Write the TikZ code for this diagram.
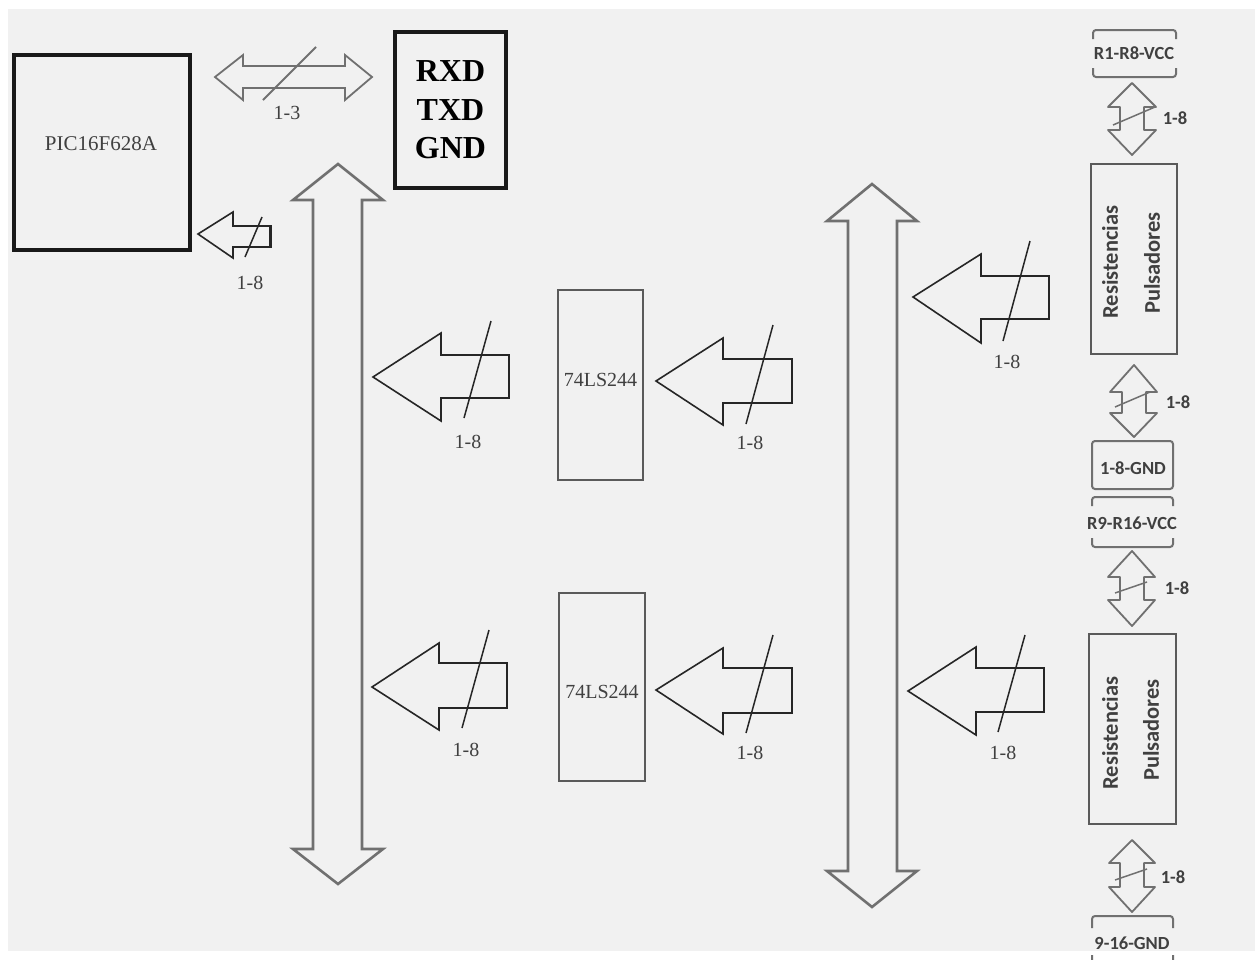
\documentclass[tikz,border=0pt]{standalone}
\usepackage{fontspec}
\setmainfont{Liberation Serif}
\newfontfamily\calib{Carlito}
\definecolor{bgc}{HTML}{F1F1F1}
\definecolor{txtc}{HTML}{404040}
\definecolor{busc}{HTML}{707070}
\definecolor{boxc}{HTML}{5A5A5A}
\newcommand\LArr[8]{\draw[blk] (#1,#2) -- (#3,#4) -- (#3,#5) -- (#8,#5) -- (#8,#6) -- (#3,#6) -- (#3,#7) -- cycle;}
% vertical double arrow: cx, toptip, topbase, wl, wr, sl, sr, botbase, style ; bottom tip in \vdtip
\newcommand\VDArr[9]{\draw[#9] (#1,#2) -- (#5,#3) -- (#7,#3) -- (#7,#8) -- (#5,#8) -- (#1,\vdtip) -- (#4,#8) -- (#6,#8) -- (#6,#3) -- (#4,#3) -- cycle;}
\begin{document}
\begin{tikzpicture}[x=1pt,y=-1pt,
  blk/.style={draw=black!85,line width=1.6pt,line join=miter},
  bus/.style={draw=busc,line width=2.6pt,line join=miter},
  sml/.style={draw=busc,line width=1.8pt,line join=round},
  slash/.style={draw=black!85,line width=1.5pt},
  lbl/.style={text=txtc,font=\fontsize{20}{20}\selectfont,inner sep=0pt},
  slbl/.style={text=txtc,font=\calib\bfseries\fontsize{18.5}{18.5}\selectfont,inner sep=0pt},
  chip/.style={draw=boxc,line width=2.5pt,inner sep=0pt},
  thickbox/.style={draw=black!90,line width=4pt,inner sep=0pt},
  rot/.style={rotate=90,text=txtc,font=\calib\bfseries\fontsize{22.5}{22.5}\selectfont,inner sep=0pt},
  brk/.style={draw=busc,line width=2pt,rounded corners=3pt}]
\useasboundingbox (0,0) rectangle (1255,959);
\clip (0,0) rectangle (1255,959);
\fill[white] (0,0) rectangle (1255,959);
\fill[bgc] (8,9) rectangle (1255,951);

% PIC box
\node[thickbox,minimum width=176pt,minimum height=195pt] (pic) at (102,152.5) {};
\node[text=txtc,font=\fontsize{21}{21}\selectfont,inner sep=0pt] (pictxt) at (101,144) {PIC16F628A};

% RXD box
\node[thickbox,minimum width=111pt,minimum height=156pt,align=center,
  font=\bfseries\fontsize{32}{38.5}\selectfont] (uart) at (450.5,110) {RXD\\TXD\\GND};

% 1-3 double arrow
\draw[sml,line join=miter] (215,77) -- (243,55) -- (243,66) -- (345,66) -- (345,55) -- (372,77)
  -- (345,100) -- (345,88) -- (243,88) -- (243,100) -- cycle;
\draw[sml] (263,100) -- (316,47);
\node[lbl] (l13) at (287,113) {1-3};

% small arrow to PIC
\LArr{198}{234}{233}{212}{226}{247}{258}{270}
\draw[black!85,line width=3pt] (270,225) -- (270,248);
\draw[slash] (245,257) -- (262,217);
\node[lbl] (l0) at (250,283) {1-8};

% buses
\def\vdtip{884}
\VDArr{338}{164}{200}{293}{383}{313}{362}{849}{bus}
\def\vdtip{907}
\VDArr{872}{184}{221}{827}{917}{848}{897}{871}{bus}

% chips
\node[chip,minimum width=85pt,minimum height=190pt] (c1) at (600.5,385) {};
\node[text=txtc,font=\fontsize{20}{20}\selectfont,inner sep=0pt] (c1t) at (600.5,380) {74LS244};
\node[chip,minimum width=86pt,minimum height=188pt] (c2) at (602,687) {};
\node[text=txtc,font=\fontsize{20}{20}\selectfont,inner sep=0pt] (c2t) at (602,692) {74LS244};

% row 1 arrows
\LArr{373}{377}{441}{333}{355}{398}{421}{509}
\draw[slash] (464,418) -- (491,321);
\node[lbl] (la) at (468,442) {1-8};
\LArr{656}{381}{723}{338}{359}{403}{425}{792}
\draw[slash] (746,424) -- (773,325);
\node[lbl] (lb) at (750,443) {1-8};
\LArr{913}{297}{981}{254}{276}{319}{343}{1049}
\draw[slash] (1003,341) -- (1030,241);
\node[lbl] (lc) at (1007,362) {1-8};

% row 2 arrows
\LArr{372}{687}{439}{643}{663}{708}{730}{507}
\draw[slash] (462,728) -- (489,630);
\node[lbl] (ld) at (466,750) {1-8};
\LArr{656}{690}{723}{648}{668}{713}{734}{792}
\draw[slash] (746,733) -- (773,635);
\node[lbl] (le) at (750,753) {1-8};
\LArr{908}{691}{976}{647}{668}{712}{735}{1044}
\draw[slash] (998,732) -- (1025,635);
\node[lbl] (lf) at (1003,753) {1-8};

% right column boxes
\node[chip,minimum width=86pt,minimum height=190pt] (rp1) at (1134,259) {};
\node[rot] (rp1a) at (1110,262) {Resistencias};
\node[rot] (rp1b) at (1152,263) {Pulsadores};
\node[chip,minimum width=87pt,minimum height=190pt] (rp2) at (1132.5,729) {};
\node[rot] (rp2a) at (1110,733) {Resistencias};
\node[rot] (rp2b) at (1151,730) {Pulsadores};

% bracket boxes
\draw[brk] (1093,39) -- (1093,30) -- (1176,30) -- (1176,39);
\draw[brk] (1093,68) -- (1093,77) -- (1176,77) -- (1176,68);
\node[slbl] (vcc1) at (1134,53) {R1-R8-VCC};
\node[draw=busc,line width=2pt,rounded corners=3pt,minimum width=81pt,minimum height=48pt,inner sep=0pt] (gnd1) at (1132.5,465) {};
\node[slbl] (gnd1t) at (1133,468) {1-8-GND};
\draw[brk] (1092,506) -- (1092,497) -- (1173,497) -- (1173,506);
\draw[brk] (1092,538) -- (1092,547) -- (1173,547) -- (1173,538);
\node[slbl] (vcc2) at (1132,523) {R9-R16-VCC};
\draw[brk] (1092,928) -- (1092,916) -- (1173,916) -- (1173,928);
\draw[brk] (1092,955) -- (1092,964) -- (1173,964) -- (1173,955);
\node[slbl] (gnd2) at (1132,943) {9-16-GND};

% small vertical double arrows
\def\vdtip{155}
\VDArr{1132}{83}{107}{1108}{1156}{1120}{1144}{130}{sml}
\draw[sml,line width=1.5pt] (1113,125) -- (1155,107);
\node[slbl] (s1) at (1175,118) {1-8};
\def\vdtip{437}
\VDArr{1134}{365}{392}{1110}{1157}{1122}{1146}{413}{sml}
\draw[sml,line width=1.5pt] (1115,407) -- (1150,392);
\node[slbl] (s2) at (1178,402) {1-8};
\def\vdtip{626}
\VDArr{1132}{551}{577}{1108}{1155}{1120}{1144}{600}{sml}
\draw[sml,line width=1.5pt] (1115,593) -- (1147,582);
\node[slbl] (s3) at (1177,588) {1-8};
\def\vdtip{912}
\VDArr{1132}{840}{863}{1109}{1155}{1120}{1144}{887}{sml}
\draw[sml,line width=1.5pt] (1115,880) -- (1147,869);
\node[slbl] (s4) at (1173,877) {1-8};
\end{tikzpicture}
\end{document}
